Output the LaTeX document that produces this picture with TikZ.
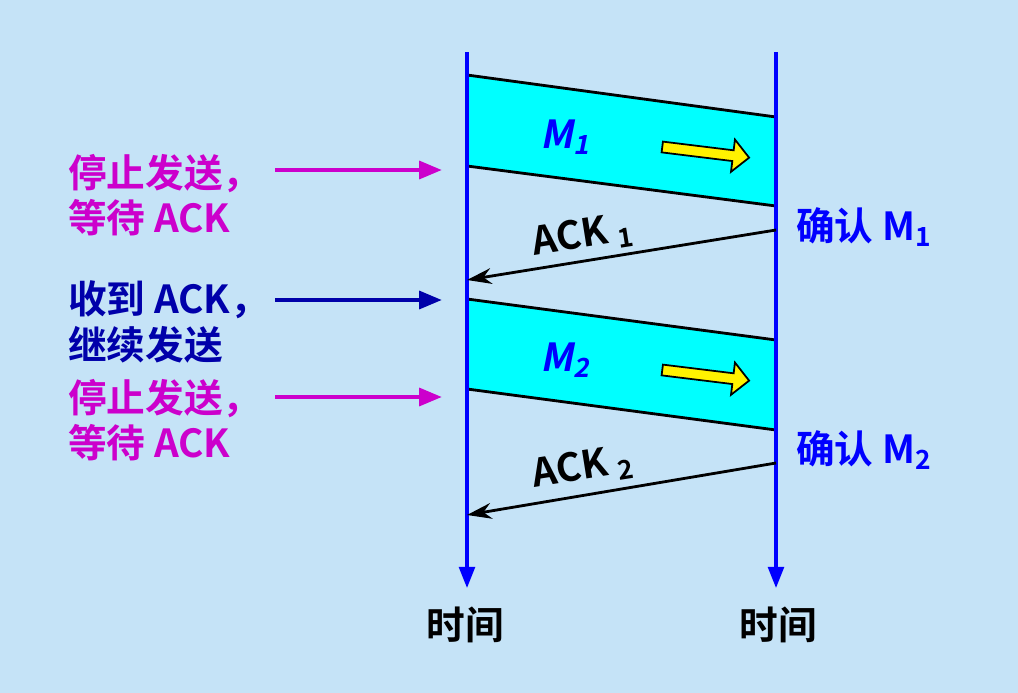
\documentclass[tikz,border=0pt]{standalone}
\usepackage{fontspec}
\setmainfont{Noto Sans CJK SC}[BoldFont={* Bold}]
\newfontfamily\slantfont{Noto Sans CJK SC Bold}[FakeSlant=0.2]
\usetikzlibrary{arrows.meta,shapes.arrows}
\definecolor{bg}{HTML}{C5E3F7}
\definecolor{band}{HTML}{00FFFF}
\definecolor{mag}{HTML}{CC00CC}
\definecolor{dblue}{HTML}{0000AA}
\newcommand{\lowsub}[1]{\raisebox{-0.3ex}{\fontsize{15}{18}\selectfont #1}}
\tikzset{
  timeline/.style={draw=blue, line width=1.8pt, -{Triangle[length=12pt,width=9pt]}},
  frame/.style={fill=band},
  edge/.style={draw=black, line width=1.6pt},
  ack/.style={draw=black, line width=1.6pt, -{Stealth[length=14pt,width=9pt]}},
  note/.style={font=\fontsize{22}{26}\selectfont\bfseries, align=left, anchor=west},
  msg/.style={text=blue, font=\fontsize{22}{26}\selectfont\slantfont},
  pointer/.style={line width=2.5pt, -{Triangle[length=13pt,width=10pt]}},
  push/.style={single arrow, draw=black, fill=yellow, minimum height=1.75cm, minimum width=0.65cm,
        single arrow head extend=3pt, rotate=-7, inner sep=1pt, line width=1pt}
}
\begin{document}
\begin{tikzpicture}[x=0.02cm, y=-0.02cm]
  \fill[bg] (0,0) rectangle (1018,693);
  \useasboundingbox (0,0) rectangle (1018,693);

  % frames
  \fill[frame] (467,75) -- (776,117) -- (776,206) -- (467,166) -- cycle;
  \fill[frame] (467,299) -- (776,340) -- (776,430) -- (467,389) -- cycle;
  \draw[edge] (467,75) -- (776,117);
  \draw[edge] (467,166) -- (776,206);
  \draw[edge] (467,299) -- (776,340);
  \draw[edge] (467,389) -- (776,430);

  % time lines
  \coordinate (sTop) at (467,52);
  \coordinate (sEnd) at (467,588);
  \coordinate (rTop) at (776,52);
  \coordinate (rEnd) at (776,588);
  \draw[timeline] (sTop) -- (sEnd);
  \draw[timeline] (rTop) -- (rEnd);

  \node[msg] (m1) at (565,137) {M\lowsub{1}};
  \node[msg] (m2) at (565,360) {M\lowsub{2}};
  \node[push] (go1) at (703,152) {};
  \node[push] (go2) at (703,375) {};

  % acks
  \coordinate (a1s) at (776,230);
  \coordinate (a1e) at (467,280);
  \coordinate (a2s) at (776,463);
  \coordinate (a2e) at (467,515);
  \draw[ack] (a1s) -- (a1e);
  \draw[ack] (a2s) -- (a2e);
  \node[font=\fontsize{22}{26}\selectfont\bfseries, rotate=9, inner sep=0pt] (ack1) at (582,236) {ACK \lowsub{1}};
  \node[font=\fontsize{22}{26}\selectfont\bfseries, rotate=9, inner sep=0pt] (ack2) at (582,468) {ACK \lowsub{2}};

  \node[note, text=blue] (ok1) at (790,227) {确认 M\lowsub{1}};
  \node[note, text=blue] (ok2) at (790,450) {确认 M\lowsub{2}};

  % left notes
  \node[note, text=mag] (wait1) at (62,195) {停止发送，\\等待 ACK};
  \node[note, text=dblue] (recv) at (62,322) {收到 ACK，\\继续发送};
  \node[note, text=mag] (wait2) at (62,420) {停止发送，\\等待 ACK};
  \coordinate (p1s) at (275,170); \coordinate (p1e) at (442,170);
  \coordinate (p2s) at (275,300); \coordinate (p2e) at (442,300);
  \coordinate (p3s) at (275,397); \coordinate (p3e) at (442,397);
  \draw[pointer, mag] (p1s) -- (p1e);
  \draw[pointer, dblue] (p2s) -- (p2e);
  \draw[pointer, mag] (p3s) -- (p3e);

  \node[font=\fontsize{22}{26}\selectfont\bfseries] (t1) at (465,625) {时间};
  \node[font=\fontsize{22}{26}\selectfont\bfseries] (t2) at (778,625) {时间};
\end{tikzpicture}
\end{document}
